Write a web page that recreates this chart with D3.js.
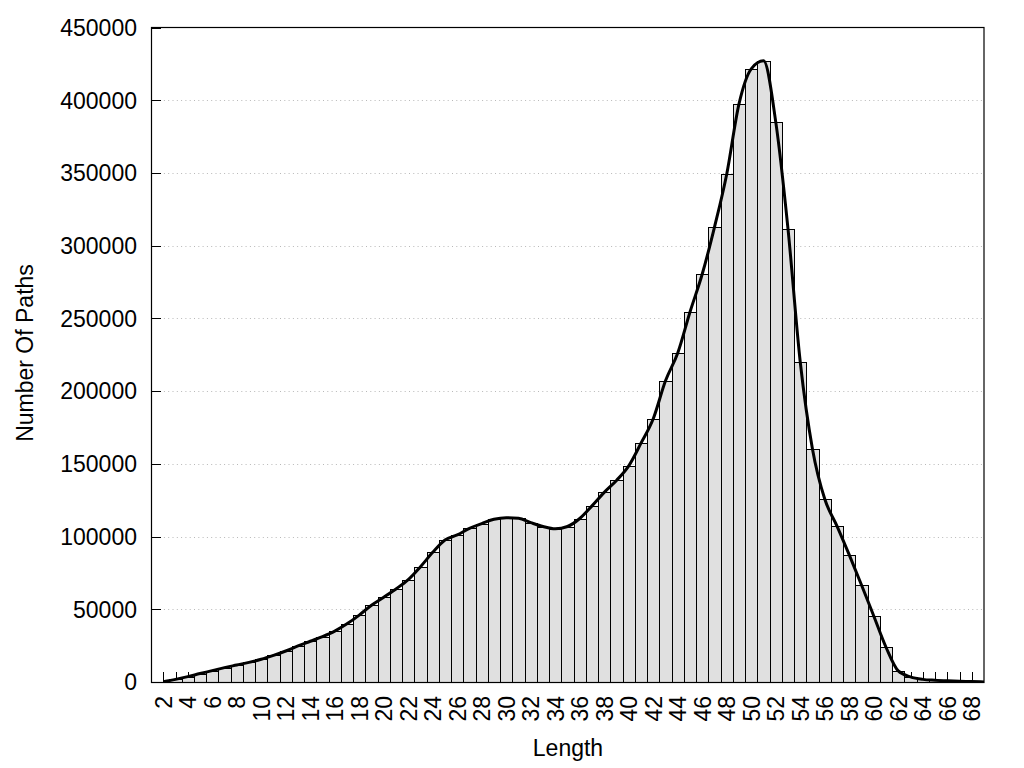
<!DOCTYPE html>
<html>
<head>
<meta charset="utf-8">
<script src="https://cdn.jsdelivr.net/npm/d3@7"></script>
<style>
  html, body { margin: 0; padding: 0; background: #fff; }
  svg { display: block; font-family: "Liberation Sans", Arial, sans-serif; }
</style>
</head>
<body>
<svg id="chart" width="1024" height="768"></svg>
<script>
// ---- data ----
const lengths = [2,3,4,5,6,7,8,9,10,11,12,13,14,15,16,17,18,19,20,21,22,23,24,25,26,27,28,29,30,31,32,33,34,35,36,37,38,39,40,41,42,43,44,45,46,47,48,49,50,51,52,53,54,55,56,57,58,59,60,61,62,63,64,65,66,67,68,69];
const paths = [200,1800,3700,5800,7800,9900,11700,13500,15600,18300,21300,24800,28000,31200,35000,40000,46000,52800,58300,64000,70400,79300,89200,97700,101100,105700,108900,111900,113000,112600,109600,106900,105300,106900,112400,121100,130400,138600,148600,164200,181000,207100,226200,254400,280500,312800,349300,397500,421600,427100,385100,311500,220000,160100,125800,107200,87400,66700,45400,23900,7600,3500,1800,1200,800,500,300,0];
const yTicks = [0,50000,100000,150000,200000,250000,300000,350000,400000,450000];
const xTicks = d3.range(2, 69);            // tick marks at every length 2..68
const xLabels = d3.range(2, 69, 2);        // labels at even lengths
const xTitle = "Length";
const yTitle = "Number Of Paths";

// ---- layout ----
const L = 151, R = 984, T = 27.5, B = 682;
const svg = d3.select("#chart");
const x = d3.scaleLinear().domain([1, 69]).range([L, R]);
const y = d3.scaleLinear().domain([0, 450000]).range([B, T]);
const data = lengths.map((l, i) => ({ l, v: paths[i] }));

// clip
svg.append("defs").append("clipPath").attr("id", "clip")
  .append("rect").attr("x", L).attr("y", T).attr("width", R - L).attr("height", B - T);

// grid lines
svg.append("g").selectAll("line").data(yTicks.filter(d => d > 0 && d < 450000)).join("line")
  .attr("x1", L).attr("x2", R)
  .attr("y1", d => Math.round(y(d)) + 0.5).attr("y2", d => Math.round(y(d)) + 0.5)
  .attr("stroke", "#b8b8b8").attr("stroke-width", 1)
  .attr("stroke-dasharray", "1,3.3");

// x ticks (inward)
svg.append("g").selectAll("line").data(xTicks).join("line")
  .attr("x1", d => Math.round(x(d)) + 0.5).attr("x2", d => Math.round(x(d)) + 0.5)
  .attr("y1", B).attr("y2", B - 10)
  .attr("stroke", "#000").attr("stroke-width", 1);

// y ticks (inward)
svg.append("g").selectAll("line").data(yTicks).join("line")
  .attr("x1", L).attr("x2", L + 10)
  .attr("y1", d => Math.round(y(d)) + 0.5).attr("y2", d => Math.round(y(d)) + 0.5)
  .attr("stroke", "#000").attr("stroke-width", 1);

// bars
const gPlot = svg.append("g").attr("clip-path", "url(#clip)");
gPlot.selectAll("rect").data(data).join("rect")
  .attr("x", d => Math.round(x(d.l - 0.5)) + 0.5)
  .attr("width", d => Math.round(x(d.l + 0.5)) - Math.round(x(d.l - 0.5)))
  .attr("y", d => Math.round(y(d.v)) + 0.5)
  .attr("height", d => Math.max(0, B - Math.round(y(d.v))))
  .attr("fill", "#e0e0e0").attr("stroke", "#000").attr("stroke-width", 1)
  .attr("shape-rendering", "crispEdges");

// smooth curve
const line = d3.line().x(d => x(d.l)).y(d => y(d.v)).curve(d3.curveMonotoneX);
gPlot.append("path").datum(data).attr("d", line)
  .attr("fill", "none").attr("stroke", "#000").attr("stroke-width", 3)
  .attr("stroke-linejoin", "round");

// border
svg.append("rect").attr("x", L + 0.5).attr("y", T).attr("width", R - L - 0.5).attr("height", B - T + 0.5)
  .attr("fill", "none").attr("stroke", "#000").attr("stroke-width", 1.2);

// y tick labels
svg.append("g").selectAll("text").data(yTicks).join("text")
  .attr("x", 137).attr("y", d => y(d)).attr("dy", "0.36em")
  .attr("text-anchor", "end").attr("font-size", 23).attr("fill", "#000")
  .text(d => d3.format("d")(d));

// x tick labels (rotated)
svg.append("g").selectAll("text").data(xLabels).join("text")
  .attr("transform", d => `translate(${x(d)},696) rotate(-90)`)
  .attr("dy", "0.36em")
  .attr("text-anchor", "end").attr("font-size", 23).attr("fill", "#000")
  .text(d => d);

// axis titles
svg.append("text").attr("transform", "translate(33,353) rotate(-90)")
  .attr("text-anchor", "middle").attr("font-size", 23).attr("fill", "#000").text(yTitle);
svg.append("text").attr("x", 568).attr("y", 756)
  .attr("text-anchor", "middle").attr("font-size", 23).attr("fill", "#000").text(xTitle);
</script>
</body>
</html>
